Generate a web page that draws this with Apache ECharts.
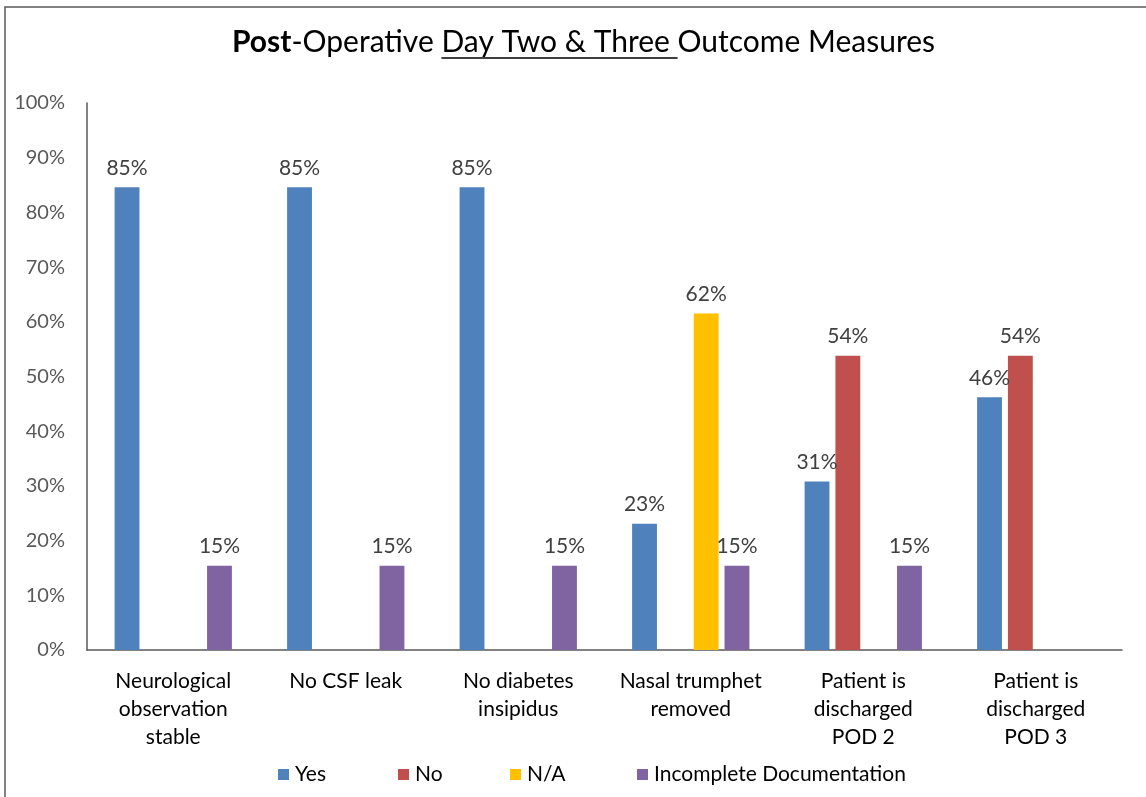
<!DOCTYPE html>
<html>
<head>
<meta charset="utf-8">
<script src="https://cdn.jsdelivr.net/npm/echarts@6/dist/echarts.min.js"></script>
<style>
html,body{margin:0;padding:0;background:#fff;}
#chart{width:1146px;height:797px;}
</style>
</head>
<body>
<div id="chart"></div>
<script>
const categories = ['Neurological\nobservation\nstable', 'No CSF leak', 'No diabetes\ninsipidus', 'Nasal trumphet\nremoved', 'Patient is\ndischarged\nPOD 2', 'Patient is\ndischarged\nPOD 3'];
const seriesNames = ['Yes', 'No', 'N/A', 'Incomplete Documentation'];
const yesValues = [84.6, 84.6, 84.6, 23.1, 30.8, 46.2];
const noValues = [null, null, null, null, 53.8, 53.8];
const naValues = [null, null, null, 61.5, null, null];
const incompleteValues = [15.4, 15.4, 15.4, 15.4, 15.4, null];
const yTicks = { min: 0, max: 100, interval: 10 };

const colors = ['#4F81BD', '#C0504D', '#FFC000', '#8064A2'];
const FONT = 'Lato';

const chart = echarts.init(document.getElementById('chart'));

const titleSize = 30;
const titleLeft = 232;
function measure(text, weight) {
  const c = document.createElement('canvas').getContext('2d');
  c.font = (weight || 'normal') + ' ' + titleSize + 'px ' + FONT;
  return c.measureText(text).width;
}
const tPost = 'Post', tOp = '-Operative ', tDay = 'Day Two & Three ', tOut = 'Outcome Measures';
const wPost = measure(tPost, 'bold'), wOp = measure(tOp), wDay = measure(tDay);
const ulX1 = titleLeft + wPost + wOp;
const ulX2 = ulX1 + wDay;

function mkSeries(name, data, color) {
  return {
    name: name,
    type: 'bar',
    data: data,
    barGap: '24%',
    barCategoryGap: '32%',
    itemStyle: { color: color },
    label: {
      show: true,
      position: 'top',
      distance: 9,
      color: '#404040',
      fontFamily: FONT,
      fontSize: 21,
      formatter: p => p.value == null ? '' : Math.round(p.value) + '%'
    }
  };
}

const legendLefts = [273, 393, 505, 632];
const legends = seriesNames.map((n, i) => ({
  left: legendLefts[i],
  top: 759,
  itemWidth: 11,
  itemHeight: 11,
  icon: 'rect',
  data: [n],
  textStyle: { fontFamily: FONT, fontSize: 21, color: '#000', padding: [0, 0, 0, 1] }
}));

chart.setOption({
  animation: false,
  backgroundColor: '#fff',
  textStyle: { fontFamily: FONT },
  title: {
    text: '{b|' + tPost + '}{n|' + tOp + tDay + tOut + '}',
    left: titleLeft,
    top: 27,
    padding: 0,
    textStyle: {
      rich: {
        b: { fontFamily: FONT, fontSize: titleSize, fontWeight: 'bold', color: '#000' },
        n: { fontFamily: FONT, fontSize: titleSize, fontWeight: 'normal', color: '#000' }
      }
    }
  },
  legend: legends,
  grid: { left: 87, right: 24, top: 103, bottom: 147, containLabel: false },
  xAxis: {
    type: 'category',
    data: categories,
    axisLine: { lineStyle: { color: '#595959', width: 1.5 } },
    axisTick: { show: false },
    axisLabel: { fontFamily: FONT, fontSize: 21, color: '#000', lineHeight: 28, margin: 17, interval: 0 }
  },
  yAxis: {
    type: 'value',
    min: yTicks.min,
    max: yTicks.max,
    interval: yTicks.interval,
    axisLine: { show: true, lineStyle: { color: '#595959', width: 1.5 } },
    axisTick: { show: false },
    splitLine: { show: false },
    axisLabel: { fontFamily: FONT, fontSize: 20, color: '#595959', margin: 22, formatter: '{value}%' }
  },
  series: [
    mkSeries(seriesNames[0], yesValues, colors[0]),
    mkSeries(seriesNames[1], noValues, colors[1]),
    mkSeries(seriesNames[2], naValues, colors[2]),
    mkSeries(seriesNames[3], incompleteValues, colors[3])
  ],
  graphic: [
    { type: 'rect', shape: { x: 5, y: 7, width: 1200, height: 900 }, style: { fill: 'none', stroke: '#595959', lineWidth: 1.5 }, silent: true },
    { type: 'line', shape: { x1: ulX1, y1: 58, x2: ulX2, y2: 58 }, style: { stroke: '#000', lineWidth: 1.5 }, silent: true }
  ]
});
</script>
</body>
</html>
